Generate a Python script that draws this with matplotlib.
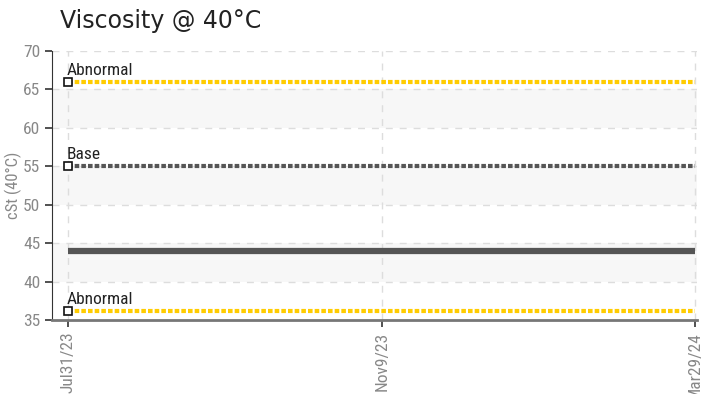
import matplotlib
matplotlib.use("Agg")
import matplotlib.pyplot as plt
from matplotlib import font_manager

categories = ["Jul31/23", "Nov9/23", "Mar29/24"]
viscosity = [44, 44, 44]
abnormal_high = [66, 66, 66]
base = [55, 55, 55]
abnormal_low = [36.2, 36.2, 36.2]
yticks = [35, 40, 45, 50, 55, 60, 65, 70]

names = {f.name for f in font_manager.fontManager.ttflist}
narrow = 'DejaVu Sans'
for cand in ['Roboto Condensed', 'Archivo Narrow', 'PT Sans Narrow', 'Liberation Sans Narrow',
             'Open Sans Condensed', 'Pragati Narrow', 'Encode Sans Condensed', 'IBM Plex Sans Condensed',
             'Fira Sans Condensed', 'Barlow Condensed', 'Asap Condensed', 'Saira Condensed',
             'Ubuntu Condensed', 'Oswald']:
    if cand in names:
        narrow = cand
        break
plt.rcParams['font.family'] = [narrow, 'DejaVu Sans']

fig = plt.figure(figsize=(7.08, 3.94), dpi=100)
ax = fig.add_axes([52/708, 1-320/394, (697-52)/708, (320-51)/394])
x = list(range(len(categories)))

for lo in [40, 50, 60]:
    ax.axhspan(lo, lo + 5, color='#f7f7f7', zorder=0, lw=0)

ax.set_xlim(-0.051, 2.005)
ax.set_ylim(35, 70)
ax.set_yticks(yticks)
ax.set_xticks(x)
ax.set_xticklabels(categories, rotation=90)
ax.grid(True, color='#dddddd', linestyle=(0, (5, 5)), linewidth=1)
ax.set_axisbelow(True)

ax.plot(x, viscosity, color='#555555', lw=4.5, zorder=3, solid_capstyle='butt')
for series, col, lab in [(abnormal_high, '#ffcc00', 'Abnormal'),
                         (base, '#555555', 'Base'),
                         (abnormal_low, '#ffcc00', 'Abnormal')]:
    ax.plot(x, series, color=col, lw=3, linestyle=(0, (1.1, 0.5)), zorder=3)
    ax.plot([x[0]], [series[0]], marker='s', ms=6, mfc='white', mec='#111111',
            mew=1.2, zorder=4, clip_on=False)
    ax.annotate(lab, (x[0], series[0]), xytext=(-1, 3), textcoords='offset points',
                fontsize=12.5, color='#222222', ha='left', va='bottom', zorder=5)

for s in ['top', 'right']:
    ax.spines[s].set_visible(False)
ax.spines['left'].set_color('#333333')
ax.spines['bottom'].set_color('#777777')
ax.spines['bottom'].set_linewidth(2)
ax.tick_params(axis='both', colors='#333333', labelcolor='#888888', labelsize=12.5,
               length=5, width=1.2)
ax.set_ylabel('cSt (40°C)', color='#888888', fontsize=12)
ax.yaxis.set_label_coords(-30/645, 0.5)

fig.text(60/708, 1-21/394, 'Viscosity @ 40°C', family='DejaVu Sans', fontsize=17,
         color='#222222', va='center', ha='left')

fig.savefig('out.png', dpi=100)
